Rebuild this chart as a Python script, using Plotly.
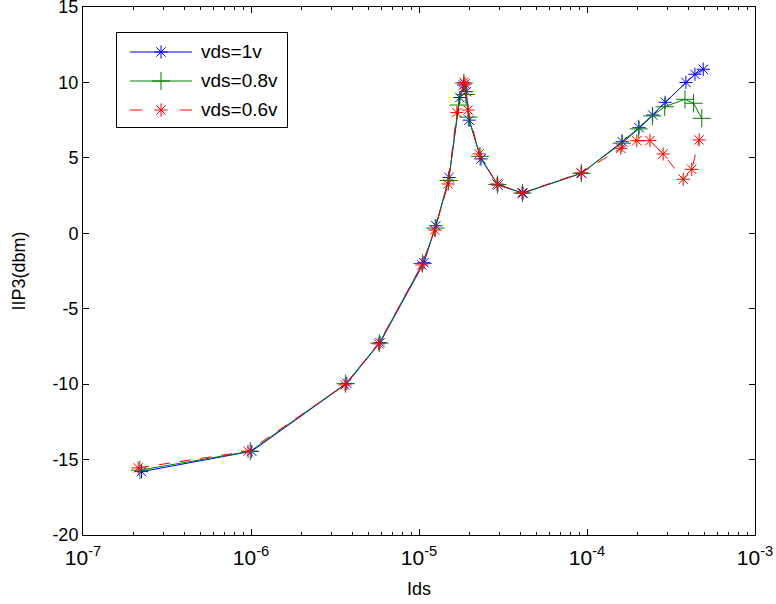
import plotly.graph_objects as go

# Drain current (A) and IIP3 (dBm) for three drain-source voltages
ids_1v = [2.23e-7, 1.01e-6, 3.72e-6, 5.86e-6, 1.07e-5, 1.26e-5, 1.51e-5, 1.75e-5,
          1.84e-5, 1.91e-5, 1.99e-5, 2.34e-5, 2.95e-5, 4.16e-5, 9.29e-5, 1.62e-4,
          2.04e-4, 2.46e-4, 2.92e-4, 3.88e-4, 4.39e-4, 4.92e-4]
iip3_1v = [-15.8, -14.45, -9.95, -7.25, -1.95, 0.5, 3.7, 9.0,
           9.83, 9.39, 7.5, 4.93, 3.2, 2.67, 3.98, 6.07,
           7.0, 7.84, 8.68, 10.0, 10.54, 10.87]

ids_08v = [2.18e-7, 9.9e-7, 3.66e-6, 5.8e-6, 1.05e-5, 1.25e-5, 1.5e-5, 1.72e-5,
           1.85e-5, 1.9e-5, 1.97e-5, 2.31e-5, 2.93e-5, 4.13e-5, 9.25e-5, 1.61e-4,
           2.03e-4, 2.45e-4, 2.9e-4, 3.83e-4, 4.31e-4, 4.82e-4]
iip3_08v = [-15.7, -14.45, -9.97, -7.28, -2.0, 0.35, 3.5, 8.5,
            9.96, 9.2, 7.7, 5.1, 3.23, 2.67, 3.98, 5.97,
            6.92, 7.78, 8.39, 8.88, 8.62, 7.62]

ids_06v = [2.13e-7, 9.6e-7, 3.63e-6, 5.75e-6, 1.04e-5, 1.24e-5, 1.49e-5, 1.68e-5,
           1.85e-5, 1.88e-5, 1.96e-5, 2.28e-5, 2.91e-5, 4.1e-5, 9.22e-5, 1.59e-4,
           1.98e-4, 2.37e-4, 2.84e-4, 3.74e-4, 4.2e-4, 4.65e-4]
iip3_06v = [-15.55, -14.45, -10.05, -7.33, -2.1, 0.22, 3.27, 8.0,
            10.0, 9.9, 8.17, 5.26, 3.27, 2.67, 4.0, 5.63,
            6.14, 6.14, 5.26, 3.58, 4.24, 6.19]

series_names = ["vds=1v", "vds=0.8v", "vds=0.6v"]

x_ticks = [1e-7, 1e-6, 1e-5, 1e-4, 1e-3]
x_tick_text = ["10<sup>-7</sup>", "10<sup>-6</sup>", "10<sup>-5</sup>",
               "10<sup>-4</sup>", "10<sup>-3</sup>"]
y_ticks = [-20, -15, -10, -5, 0, 5, 10, 15]
y_tick_text = ["-20", "-15", "-10", "-5", "0", "5", "10", "15"]

# Minor log ticks at 2..9 within each decade of the x range
x_minor_ticks = [m * 10.0 ** e for e in range(-7, -3) for m in range(2, 10)]

FONT = "Liberation Sans, Arial, Helvetica, sans-serif"
FS = 18

styles = [
    dict(color="rgb(0,0,255)", symbol="asterisk-open", size=11, dash="solid"),
    dict(color="rgb(0,128,0)", symbol="cross-thin-open", size=13, dash="solid"),
    dict(color="rgb(255,0,0)", symbol="asterisk-open", size=11, dash="11px,10px"),
]
data = [(ids_1v, iip3_1v), (ids_08v, iip3_08v), (ids_06v, iip3_06v)]

fig = go.Figure()
for (xs, ys), name, st in zip(data, series_names, styles):
    fig.add_trace(go.Scatter(
        x=xs, y=ys, mode="lines+markers", name=name, showlegend=False,
        line=dict(color=st["color"], width=1, dash=st["dash"]),
        marker=dict(symbol=st["symbol"], size=st["size"], color=st["color"],
                    line=dict(color=st["color"], width=1)),
    ))

# Legend box drawn on its own small axes (units: pixels inside the box)
LEG_W, LEG_H = 170, 94
row_y = [19, 48, 77]
for name, st, ry in zip(series_names, styles, row_y):
    fig.add_trace(go.Scatter(
        x=[13, 75], y=[ry, ry], mode="lines", xaxis="x2", yaxis="y2",
        showlegend=False, hoverinfo="skip",
        line=dict(color=st["color"], width=1,
                  dash="12px,38px" if st["dash"] != "solid" else "solid"),
    ))
    fig.add_trace(go.Scatter(
        x=[44], y=[ry], mode="markers", xaxis="x2", yaxis="y2",
        showlegend=False, hoverinfo="skip",
        marker=dict(symbol=st["symbol"], size=st["size"], color=st["color"],
                    line=dict(color=st["color"], width=1)),
    ))
    fig.add_annotation(
        x=82, y=ry, xref="x2", yref="y2", text=name, showarrow=False,
        xanchor="left", yanchor="middle",
        font=dict(family=FONT, size=FS + 1, color="black"),
    )

fig.update_layout(
    width=776, height=604,
    margin=dict(l=83, r=21, t=7, b=69),
    paper_bgcolor="white", plot_bgcolor="white",
    font=dict(family=FONT, size=FS, color="black"),
    showlegend=False,
    xaxis=dict(
        type="log", range=[-7, -3], tickvals=x_ticks, ticktext=x_tick_text,
        automargin=False,
        showgrid=False, zeroline=False,
        showline=True, linecolor="black", linewidth=1, mirror="ticks",
        ticks="inside", ticklen=6, tickcolor="black", tickwidth=1,
        minor=dict(ticks="inside", ticklen=3, tickcolor="black",
                   tickmode="array", tickvals=x_minor_ticks, showgrid=False),
        tickfont=dict(family=FONT, size=21),
        ticklabelstandoff=4,
        ticklabeloverflow="allow",
        title=dict(text="Ids", font=dict(family=FONT, size=FS), standoff=14),
    ),
    yaxis=dict(
        range=[-20, 15], tickvals=y_ticks, ticktext=y_tick_text,
        automargin=False,
        showgrid=False, zeroline=False,
        showline=True, linecolor="black", linewidth=1, mirror="ticks",
        ticks="inside", ticklen=6, tickcolor="black", tickwidth=1,
        tickfont=dict(family=FONT, size=FS),
        ticklabeloverflow="allow",
        title=dict(text="IIP3(dbm)", font=dict(family=FONT, size=FS), standoff=22),
    ),
    xaxis2=dict(domain=[34 / 672, 204 / 672], range=[0, LEG_W], anchor="y2",
                showline=True, mirror=True, linecolor="black", linewidth=1,
                showticklabels=False, ticks="", showgrid=False, zeroline=False,
                fixedrange=True),
    yaxis2=dict(domain=[408 / 528, 502 / 528], range=[LEG_H, 0], anchor="x2",
                showline=True, mirror=True, linecolor="black", linewidth=1,
                showticklabels=False, ticks="", showgrid=False, zeroline=False,
                fixedrange=True),
)

fig.write_html("out.html")
